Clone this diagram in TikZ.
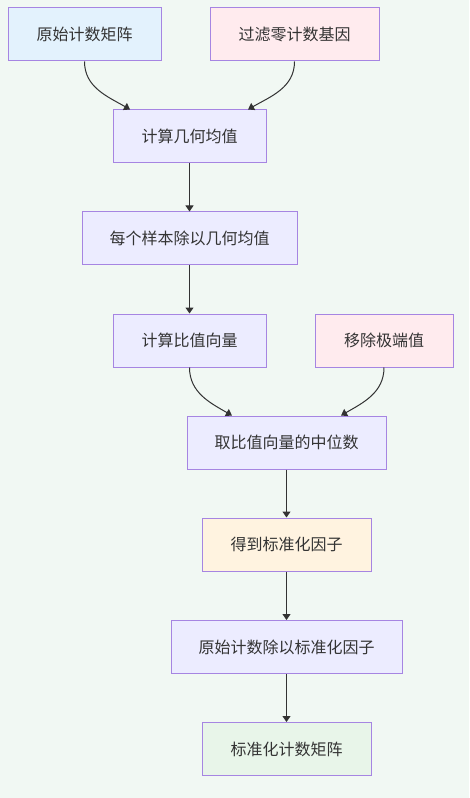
\documentclass[tikz,border=0pt]{standalone}
\usepackage{fontspec}
\newfontfamily\cjk{Noto Sans CJK SC}
\usetikzlibrary{arrows.meta}
\definecolor{bgcol}{HTML}{F1F8F3}
\definecolor{boxline}{HTML}{A685E2}
\definecolor{textcol}{HTML}{333333}
\definecolor{linecol}{HTML}{333333}
\definecolor{blueish}{HTML}{E3F2FD}
\definecolor{pinkish}{HTML}{FFEBEE}
\definecolor{lilac}{HTML}{ECECFF}
\definecolor{peach}{HTML}{FFF3E0}
\definecolor{mint}{HTML}{E8F5E9}
\begin{document}
\begin{tikzpicture}[x=0.75pt,y=-0.75pt,
    box/.style={draw=boxline,line width=0.75pt,text=textcol,inner sep=0pt,
      minimum height=39.75pt,font=\cjk\fontsize{12}{14}\selectfont},
    flow/.style={draw=linecol,line width=0.75pt,-{Triangle[length=4.5pt,width=6pt]}}]
      \fill[bgcol] (0,0) rectangle (469,798);
      \useasboundingbox (0,0) rectangle (469,798);
      \draw
        (84.5,34.5) node[box,fill=blueish,minimum width=114.75pt] (0){原始计数矩阵}
        (294.5,34.5) node[box,fill=pinkish,minimum width=126.75pt] (1){过滤零计数基因}
        (189.5,136.5) node[box,fill=lilac,minimum width=114.75pt] (2){计算几何均值}
        (189.5,238.5) node[box,fill=lilac,minimum width=161.25pt] (3){每个样本除以几何均值}
        (189.5,340.5) node[box,fill=lilac,minimum width=114.75pt] (4){计算比值向量}
        (384,340.5) node[box,fill=pinkish,minimum width=103.5pt] (5){移除极端值}
        (286.5,442.5) node[box,fill=lilac,minimum width=149.25pt] (6){取比值向量的中位数}
        (286.5,544.5) node[box,fill=peach,minimum width=126.75pt] (7){得到标准化因子}
        (286.5,647) node[box,fill=lilac,minimum width=173.25pt] (8){原始计数除以标准化因子}
        (286.5,749) node[box,fill=mint,minimum width=126.75pt] (9){标准化计数矩阵};
      \begin{scope}[flow]
        \draw (0) to[out=-90,in=150] ([xshift=-44.6pt]2.north);
        \draw (1) to[out=-90,in=30] ([xshift=43.9pt]2.north);
        \draw (2) to (3);
        \draw (3) to (4);
        \draw (4) to[out=-90,in=150] ([xshift=-40.9pt]6.north);
        \draw (5) to[out=-90,in=30] ([xshift=40.9pt]6.north);
        \draw (6) to (7);
        \draw (7) to (8);
        \draw (8) to (9);
      \end{scope}
    \end{tikzpicture}
\end{document}
